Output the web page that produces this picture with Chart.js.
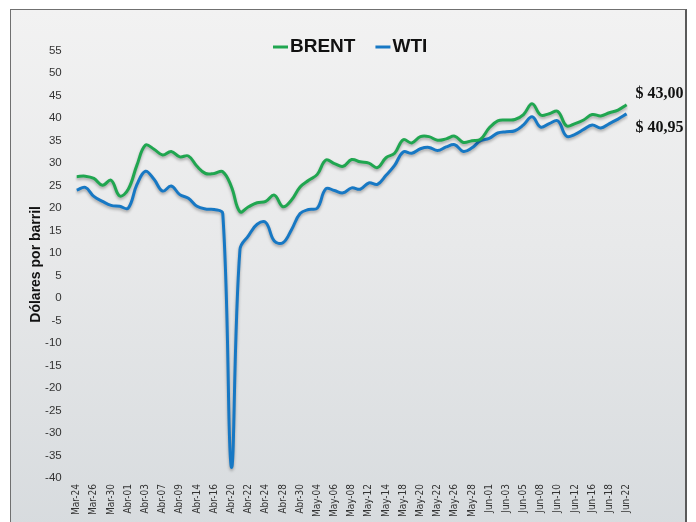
<!DOCTYPE html>
<html lang="es">
<head>
  <meta charset="UTF-8">
  <title>Brent y WTI</title>
  <script src="https://cdn.jsdelivr.net/npm/chart.js"></script>
  <style>
    html, body { margin: 0; padding: 0; background: #fff; }
    body { width: 696px; height: 522px; position: relative; overflow: hidden; }
    .frame {
      position: absolute; left: 10px; top: 9px; width: 674px; height: 520px;
      border: 1px solid #707070; border-right: 2px solid #5a5a5a;
      background: linear-gradient(#f2f2f2, #e8e9ea 45%, #d7dbde);
    }
    #wrap { position: absolute; left: 0; top: 0; width: 696px; height: 522px; }
  </style>
</head>
<body>
  <div class="frame"></div>
  <div id="wrap"><canvas id="chart" width="696" height="522"></canvas></div>

  <script>
    const NARROW = '"Liberation Sans Narrow", "Arial Narrow", "DejaVu Sans Condensed", Arial, sans-serif';
    const SANS = '"Liberation Sans", Arial, sans-serif';

    const dates = [
      'Mar-24', 'Mar-25', 'Mar-26', 'Mar-27', 'Mar-30', 'Mar-31',
      'Abr-01', 'Abr-02', 'Abr-03', 'Abr-06', 'Abr-07', 'Abr-08', 'Abr-09', 'Abr-13', 'Abr-14', 'Abr-15',
      'Abr-16', 'Abr-17', 'Abr-20', 'Abr-21', 'Abr-22', 'Abr-23', 'Abr-24', 'Abr-27', 'Abr-28', 'Abr-29', 'Abr-30',
      'May-01', 'May-04', 'May-05', 'May-06', 'May-07', 'May-08', 'May-11', 'May-12', 'May-13', 'May-14',
      'May-15', 'May-18', 'May-19', 'May-20', 'May-21', 'May-22', 'May-25', 'May-26', 'May-27', 'May-28', 'May-29',
      'Jun-01', 'Jun-02', 'Jun-03', 'Jun-04', 'Jun-05', 'Jun-06', 'Jun-08', 'Jun-09', 'Jun-10', 'Jun-11',
      'Jun-12', 'Jun-15', 'Jun-16', 'Jun-17', 'Jun-18', 'Jun-19', 'Jun-22'
    ];

    const brent = [
      27.0, 27.1, 26.6, 25.1, 26.2, 22.7, 24.2, 29.5, 34.0, 33.1,
      31.8, 32.6, 31.4, 31.6, 29.3, 27.7, 27.7, 28.1, 24.8, 19.2,
      20.3, 21.2, 21.5, 22.9, 20.3, 21.8, 24.7, 26.2, 27.5, 30.7,
      29.9, 29.3, 30.8, 30.3, 30.0, 29.0, 31.2, 32.2, 35.2, 34.5,
      35.9, 35.9, 35.1, 35.4, 36.0, 34.6, 35.0, 35.3, 37.8, 39.4,
      39.6, 39.7, 40.8, 43.2, 40.7, 41.0, 41.5, 38.3, 38.8, 39.6,
      40.8, 40.5, 41.2, 41.8, 43.0
    ];

    const wti = [
      24.0, 24.6, 22.6, 21.5, 20.6, 20.4, 20.0, 25.2, 28.2, 26.4,
      23.8, 24.9, 23.0, 22.2, 20.4, 19.8, 19.7, 18.8, -37.6, 10.8,
      13.9, 16.4, 16.8, 12.7, 12.3, 15.2, 18.8, 19.7, 20.0, 24.3,
      23.9, 23.4, 24.5, 24.2, 25.6, 25.3, 27.3, 29.5, 32.5, 32.2,
      33.2, 33.5, 32.8, 33.6, 34.1, 32.6, 33.4, 35.0, 35.5, 36.7,
      37.0, 37.2, 38.5, 40.3, 38.0, 38.8, 39.4, 36.0, 36.4, 37.5,
      38.5, 37.8, 38.8, 39.8, 40.95
    ];

    // soft drop shadow under the lines
    const lineShadow = {
      id: 'lineShadow',
      beforeDatasetsDraw(chart) {
        const c = chart.ctx;
        c.save();
        c.shadowColor = 'rgba(0,0,0,0.3)';
        c.shadowBlur = 3;
        c.shadowOffsetY = 2;
      },
      afterDatasetsDraw(chart) {
        chart.ctx.restore();
      }
    };

    // "$ 43,00" style value at the end of each line
    const endLabels = {
      id: 'endLabels',
      afterDatasetsDraw(chart) {
        const c = chart.ctx;
        const shift = [-11, 14];
        c.save();
        c.font = 'bold 16px "Liberation Serif", "Times New Roman", serif';
        c.fillStyle = '#111';
        c.textAlign = 'left';
        c.textBaseline = 'middle';
        chart.data.datasets.forEach((ds, k) => {
          const pts = chart.getDatasetMeta(k).data;
          const last = pts[pts.length - 1];
          const v = ds.data[ds.data.length - 1];
          c.fillText('$ ' + v.toFixed(2).replace('.', ','), last.x + 9, last.y + shift[k]);
        });
        c.restore();
      }
    };

    // legend with short line markers, centred over the plot
    const lineLegend = {
      id: 'lineLegend',
      afterDraw(chart) {
        const c = chart.ctx;
        let x = 273;
        const y = 47;
        c.save();
        c.font = 'bold 19px ' + SANS;
        c.textBaseline = 'middle';
        chart.data.datasets.forEach(ds => {
          c.strokeStyle = ds.borderColor;
          c.lineWidth = 3;
          c.beginPath();
          c.moveTo(x, y);
          c.lineTo(x + 15, y);
          c.stroke();
          c.fillStyle = '#111';
          c.fillText(ds.label, x + 17, y);
          x += 17 + c.measureText(ds.label).width + 20;
        });
        c.restore();
      }
    };

    new Chart(document.getElementById('chart'), {
      type: 'line',
      data: {
        labels: dates,
        datasets: [
          { label: 'BRENT', data: brent, borderColor: '#20a650', borderWidth: 3, pointRadius: 0, tension: 0.4 },
          { label: 'WTI', data: wti, borderColor: '#1778c4', borderWidth: 3, pointRadius: 0, tension: 0.4 }
        ]
      },
      options: {
        responsive: false,
        animation: false,
        layout: { padding: { left: 10, right: 69.4, top: 50.7, bottom: 0 } },
        plugins: { legend: { display: false }, tooltip: { enabled: false } },
        scales: {
          x: {
            offset: false,
            grid: { display: false, drawTicks: false },
            border: { display: false },
            ticks: {
              autoSkip: false,
              minRotation: 90,
              maxRotation: 90,
              padding: 6,
              color: '#333',
              font: { family: NARROW, size: 10 },
              callback(v, i) { return i % 2 === 0 ? this.getLabelForValue(v) : ''; }
            },
            afterFit(s) { s.height = 44; }
          },
          y: {
            min: -40,
            max: 55,
            grid: { display: false, drawTicks: false },
            border: { display: false },
            ticks: { stepSize: 5, padding: 15, color: '#333', font: { family: SANS, size: 11.5 } },
            title: {
              display: true,
              text: 'Dólares por barril',
              color: '#111',
              font: { family: SANS, size: 14, weight: 'bold' },
              padding: { top: 18, bottom: 0 }
            },
            afterFit(s) { s.width = 66.7; }
          }
        }
      },
      plugins: [lineShadow, endLabels, lineLegend]
    });
  </script>
</body>
</html>
